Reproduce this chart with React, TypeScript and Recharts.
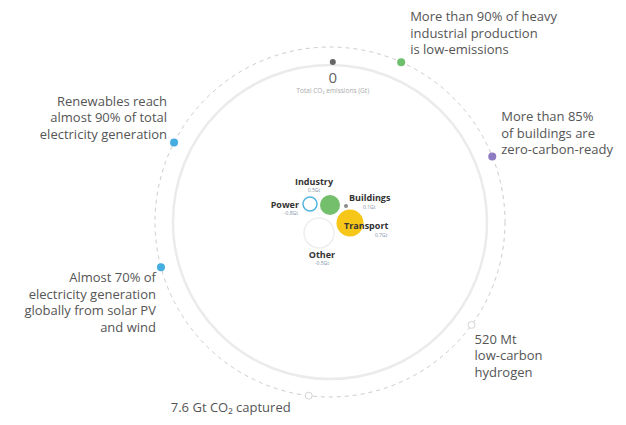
import { ScatterChart, Scatter, XAxis, YAxis, ReferenceDot } from "recharts";

// plot is 610x410, one data unit = one pixel, ring centre at (CX, CY)
const W = 610;
const H = 410;
const CX = 322;
const CY = 214;
const RING = 175;
const INNER_RING = 157;

// milestones round the ring, degrees clockwise from 12 o'clock
const milestoneNames = ["Net zero", "Heavy industry", "Buildings", "Hydrogen", "CCUS", "Solar PV and wind", "Renewables"];
const milestoneAngles = [1, 24, 68, 126, 187, 255, 297];
const milestoneLines = [
  ["0", "Total CO₂ emissions (Gt)"],
  ["More than 90% of heavy", "industrial production", "is low-emissions"],
  ["More than 85%", "of buildings are", "zero-carbon-ready"],
  ["520 Mt", "low-carbon", "hydrogen"],
  ["7.6 Gt CO₂ captured"],
  ["Almost 70% of", "electricity generation", "globally from solar PV", "and wind"],
  ["Renewables reach", "almost 90% of total", "electricity generation"],
];

// residual emissions by sector in 2050
const sectors = ["Power", "Industry", "Buildings", "Transport", "Other"];
const sectorEmissions = [-0.8, 0.5, 0.1, 0.7, -0.5];

const milestoneStyle = [
  { fill: "#666", stroke: "none", r: 3, ring: 160, anchor: "middle", dx: 0, dy: 15, sizes: [15, 6.5], colors: ["#666", "#aaa"], gap: 13 },
  { fill: "#6dbf6d", stroke: "none", r: 4, ring: RING, anchor: "start", dx: 9, dy: -46, gap: 16.5 },
  { fill: "#8e7cc3", stroke: "none", r: 4, ring: RING, anchor: "start", dx: 9, dy: -40, gap: 16.5 },
  { fill: "#fff", stroke: "#d4d4d4", r: 3.5, ring: RING, anchor: "start", dx: 3, dy: 14, gap: 16.5 },
  { fill: "#fff", stroke: "#d4d4d4", r: 3.5, ring: RING, anchor: "end", dx: -18, dy: 11, gap: 16.5 },
  { fill: "#45ade0", stroke: "none", r: 4, ring: RING, anchor: "end", dx: -5, dy: 10, gap: 16.5 },
  { fill: "#45ade0", stroke: "none", r: 4, ring: RING, anchor: "end", dx: -7, dy: -42, gap: 16.5 },
];

// bubble cluster in the middle of the ring
const sectorStyle = [
  { x: -20, y: 18, r: 7, fill: "#fff", stroke: "#52b4de", sw: 1.5, lab: { anchor: "end", dx: -11, dy: 0 }, sub: { anchor: "end", dx: -12, dy: 9 } },
  { x: 0, y: 17, r: 10, fill: "#74bf6c", stroke: "none", sw: 0, lab: { anchor: "middle", dx: -16, dy: -24 }, sub: { anchor: "middle", dx: -16, dy: -15 } },
  { x: 16, y: 16, r: 2, fill: "#8a8a8a", stroke: "none", sw: 0, lab: { anchor: "start", dx: 3, dy: -9 }, sub: { anchor: "start", dx: 17, dy: 1 } },
  { x: 20, y: -1, r: 13.5, fill: "#f6c619", stroke: "none", sw: 0, lab: { anchor: "start", dx: -6, dy: 2 }, sub: { anchor: "start", dx: 25, dy: 12 } },
  { x: -11, y: -11, r: 15, fill: "#fff", stroke: "#eeeeee", sw: 1.5, lab: { anchor: "middle", dx: 3, dy: 21 }, sub: { anchor: "middle", dx: 3, dy: 30 } },
];

const milestoneData = milestoneNames.map((name, i) => {
  const s = milestoneStyle[i];
  const a = (milestoneAngles[i] * Math.PI) / 180;
  return { name, x: s.ring * Math.sin(a), y: s.ring * Math.cos(a), lines: milestoneLines[i], style: s };
});

const sectorData = sectors.map((name, i) => ({
  name,
  value: sectorEmissions[i],
  x: sectorStyle[i].x,
  y: sectorStyle[i].y,
  style: sectorStyle[i],
}));

const FONT = "'Open Sans', sans-serif";

const MilestoneShape = (props: any) => {
  const { cx, cy, payload } = props;
  const s = payload.style;
  return (
    <g>
      <circle cx={cx} cy={cy} r={s.r} fill={s.fill} stroke={s.stroke} strokeWidth={1} />
      {payload.lines.map((t: string, j: number) => {
        const size = s.sizes ? s.sizes[j] : 13;
        const y = s.sizes ? cy + s.dy + (j === 0 ? 0 : s.gap) : cy + s.dy + j * s.gap;
        return (
          <text
            key={j}
            x={cx + s.dx}
            y={y}
            textAnchor={s.anchor}
            dominantBaseline="central"
            fontFamily={FONT}
            fontSize={size}
            fill={s.colors ? s.colors[j] : "#555"}
          >
            {t}
          </text>
        );
      })}
    </g>
  );
};

const SectorShape = (props: any) => {
  const { cx, cy, payload } = props;
  const s = payload.style;
  return (
    <g>
      <circle cx={cx} cy={cy} r={s.r} fill={s.fill} stroke={s.stroke} strokeWidth={s.sw} />
      <text
        x={cx + s.lab.dx}
        y={cy + s.lab.dy}
        textAnchor={s.lab.anchor}
        dominantBaseline="central"
        fontFamily={FONT}
        fontWeight={700}
        fontSize={9}
        fill="#333"
      >
        {payload.name}
      </text>
      <text
        x={cx + s.sub.dx}
        y={cy + s.sub.dy}
        textAnchor={s.sub.anchor}
        dominantBaseline="central"
        fontFamily={FONT}
        fontSize={5}
        fill="#8090a8"
      >
        {`${payload.value}Gt`}
      </text>
    </g>
  );
};

export default function App() {
  return (
    <div style={{ width: W, height: H, background: "#fff" }}>
      <ScatterChart width={W} height={H} margin={{ top: 0, right: 0, bottom: 0, left: 0 }}>
        <XAxis type="number" dataKey="x" domain={[-CX, W - CX]} allowDataOverflow hide />
        <YAxis type="number" dataKey="y" domain={[CY - H, CY]} allowDataOverflow hide />
        <ReferenceDot x={0} y={0} r={INNER_RING} fill="none" stroke="#ebebeb" strokeWidth={2.5} ifOverflow="visible" />
        <ReferenceDot x={0} y={0} r={RING} fill="none" stroke="#cccccc" strokeWidth={1} strokeDasharray="4 4" ifOverflow="visible" />
        <Scatter data={milestoneData} shape={MilestoneShape} isAnimationActive={false} />
        <Scatter data={sectorData} shape={SectorShape} isAnimationActive={false} />
      </ScatterChart>
    </div>
  );
}
